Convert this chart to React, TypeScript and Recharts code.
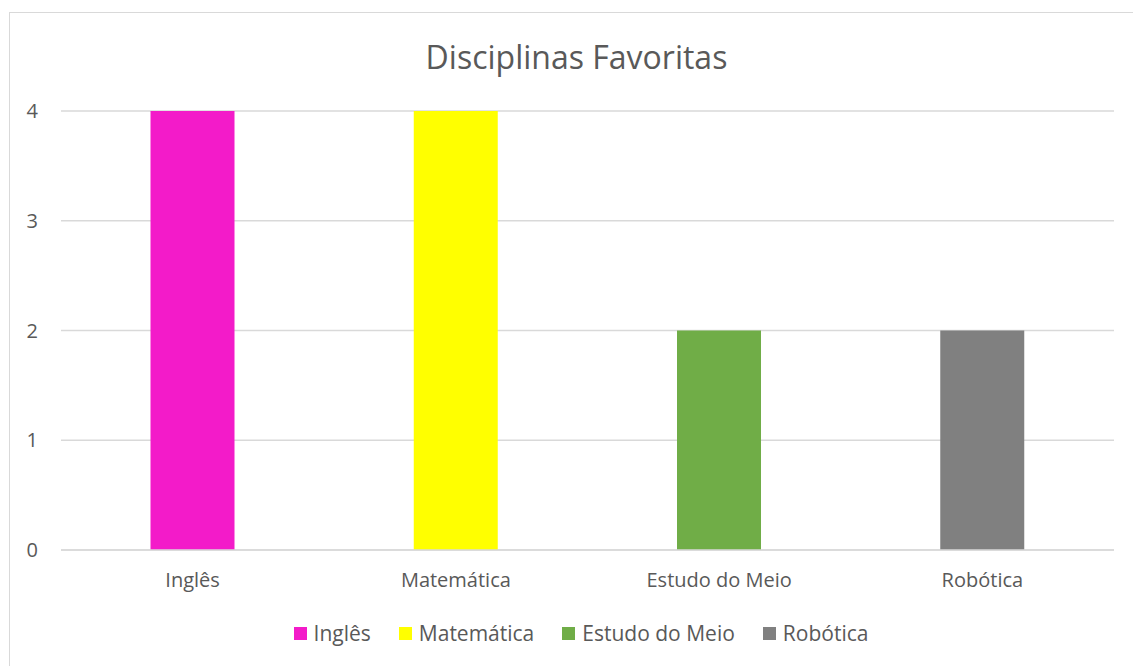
import React from 'react'
import { BarChart, Bar, XAxis, YAxis, CartesianGrid, Cell } from 'recharts'

const disciplinas = ['Inglês', 'Matemática', 'Estudo do Meio', 'Robótica']
const votos = [4, 4, 2, 2]
const cores = ['#F31BC9', '#FFFF00', '#70AD47', '#808080']
const yTicks = [0, 1, 2, 3, 4]

const FONT = '"Open Sans", "Liberation Sans", sans-serif'
const TEXT = '#595959'

const data = disciplinas.map((nome, i) => ({ nome, votos: votos[i], cor: cores[i] }))

// legend drawn by hand: one entry per category, like Excel's vary-colors legend
function LegendaDisciplinas() {
  return (
    <div style={{ display: 'flex', justifyContent: 'center', gap: 28, fontFamily: FONT, fontSize: 21, color: TEXT }}>
      {data.map(d => (
        <div key={d.nome} style={{ display: 'flex', alignItems: 'center' }}>
          <span style={{ display: 'inline-block', width: 13, height: 13, background: d.cor, marginRight: 7 }} />
          <span>{d.nome}</span>
        </div>
      ))}
    </div>
  )
}

export default function App() {
  return (
    <div style={{ position: 'absolute', left: 0, top: 0, width: 1133, height: 666, overflow: 'hidden', background: '#fff' }}>
      <div style={{ position: 'absolute', left: 9, top: 12, width: 1140, height: 680, border: '1.5px solid #D9D9D9' }} />
      <div style={{ position: 'absolute', left: 0, top: 35, width: 1153, textAlign: 'center', fontFamily: FONT, fontSize: 32, color: TEXT }}>
        Disciplinas Favoritas
      </div>
      <div style={{ position: 'absolute', left: 0, top: 0 }}>
        <BarChart
          width={1133}
          height={666}
          data={data}
          margin={{ top: 111, right: 19, left: 0, bottom: 86 }}
          barCategoryGap="34%"
        >
          <CartesianGrid vertical={false} stroke="#D9D9D9" strokeWidth={1.5} />
          <XAxis
            dataKey="nome"
            height={30}
            axisLine={{ stroke: '#D9D9D9', strokeWidth: 1.5 }}
            tickLine={false}
            tickMargin={17}
            tick={{ fill: TEXT, fontSize: 20, fontFamily: FONT }}
          />
          <YAxis
            width={61}
            domain={[0, 4]}
            ticks={yTicks}
            axisLine={false}
            tickLine={false}
            tickMargin={17}
            tick={{ fill: TEXT, fontSize: 20, fontFamily: FONT }}
          />
          <Bar dataKey="votos" isAnimationActive={false}>
            {data.map(d => (
              <Cell key={d.nome} fill={d.cor} />
            ))}
          </Bar>
        </BarChart>
      </div>
      <div style={{ position: 'absolute', left: 0, top: 619, width: 1162 }}>
        <LegendaDisciplinas />
      </div>
    </div>
  )
}
